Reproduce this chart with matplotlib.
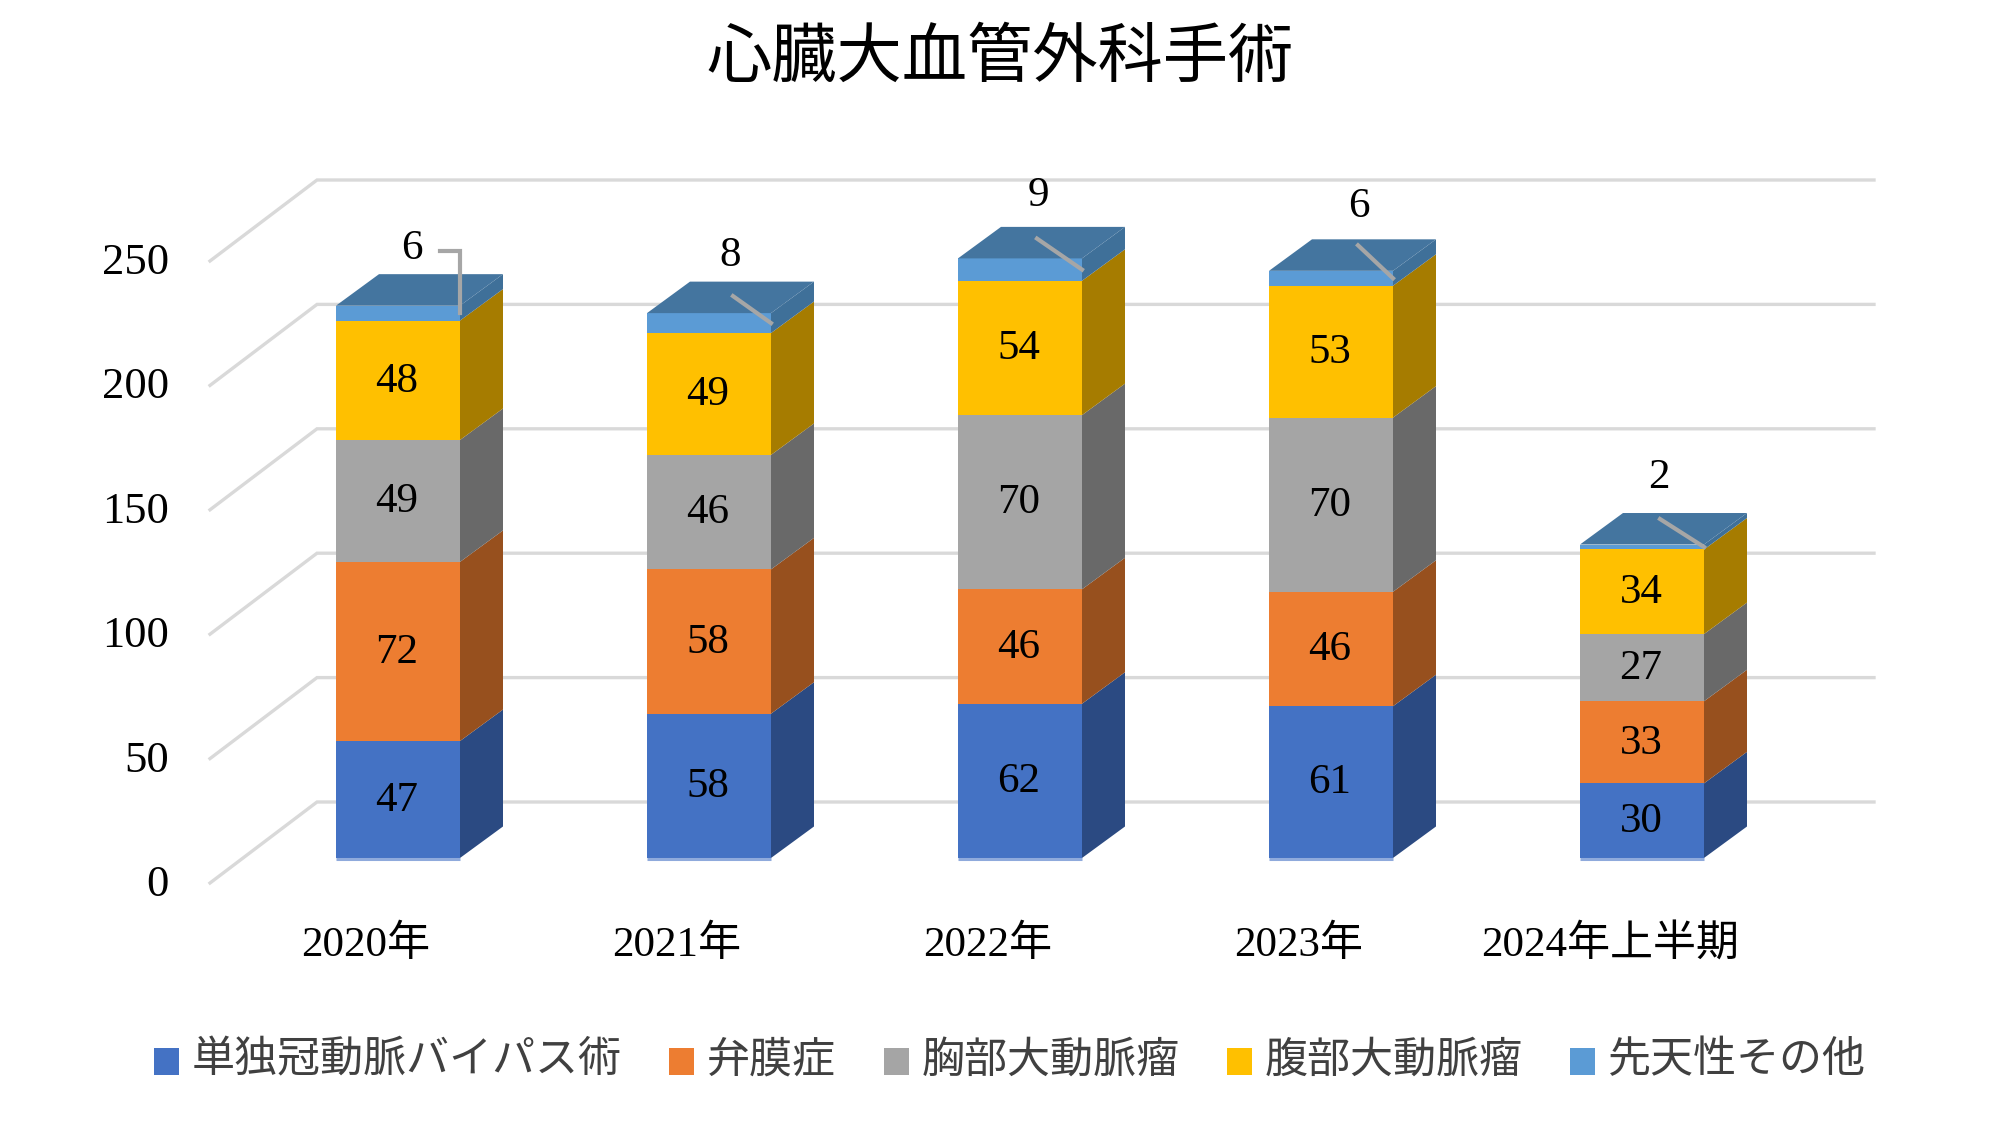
import matplotlib
matplotlib.use('Agg')
import matplotlib.pyplot as plt
from matplotlib.patches import Polygon, Patch

plt.rcParams['font.family'] = ['Liberation Serif', 'Noto Sans CJK JP', 'DejaVu Sans']

# data
years = ['2020年', '2021年', '2022年', '2023年', '2024年上半期']
series_names = ['単独冠動脈バイパス術', '弁膜症', '胸部大動脈瘤', '腹部大動脈瘤', '先天性その他']
cabg = [47, 58, 62, 61, 30]
valve = [72, 58, 46, 46, 33]
thoracic = [49, 46, 70, 70, 27]
abdominal = [48, 49, 54, 53, 34]
congenital = [6, 8, 9, 6, 2]
y_ticks = [0, 50, 100, 150, 200, 250]

series = [cabg, valve, thoracic, abdominal, congenital]
front_cols = ['#4472C4', '#ED7D31', '#A5A5A5', '#FFC000', '#5B9BD5']
side_cols = ['#2B4A82', '#97501E', '#696969', '#A67C00', '#3F7099']
top_col = '#44759F'

# one category = 311 px, one unit = 2.488 px on the 2000x1125 canvas
X_PX = 311.0
Y_PX = 2.488
bar_w = 124 / X_PX
depth_x = 43 / X_PX
depth_y = 31.5 / Y_PX

# label nudges (px) for the top series, and its leader lines
top_lab_dx = [14, 21, 18, 28, 17]
top_lab_dy = [57, 57, 63, 64, 67]
leader_dx = [0, 38, 45, 35, 44]
leader_dy = [0, 27, 31, 33, 28]

fig = plt.figure(figsize=(20, 11.25), dpi=100)
ax = fig.add_axes([0, 0, 1, 1])
ax.set_xlim(-398 / X_PX, (2000 - 398) / X_PX)
ax.set_ylim(-(1125 - 858) / Y_PX, 858 / Y_PX)
ax.axis('off')

# back wall + floor gridlines
grid_col = '#D9D9D9'
wall_l = (317 - 398) / X_PX
wall_r = (1874 - 398) / X_PX
near_l = (210 - 398) / X_PX
wall_up = 56 / Y_PX
near_down = 25 / Y_PX
for v in y_ticks:
    ax.plot([near_l, wall_l, wall_r], [v - near_down, v + wall_up, v + wall_up],
            color=grid_col, lw=2.4, solid_joinstyle='miter', zorder=1)
    ax.text(near_l - 41 / X_PX, v - near_down - 2 / Y_PX, str(v), ha='right', va='center', fontsize=32)

for i, year in enumerate(years):
    left = i - bar_w / 2
    right = i + bar_w / 2
    base = 0
    for vals, fc, sc in zip(series, front_cols, side_cols):
        v = vals[i]
        ax.bar(i, v, width=bar_w, bottom=base, color=fc, linewidth=0, zorder=3)
        ax.add_patch(Polygon([(right, base), (right + depth_x, base + depth_y),
                              (right + depth_x, base + v + depth_y), (right, base + v)],
                             closed=True, fc=sc, ec='none', zorder=3))
        if vals is not congenital:
            ax.text(i - 1 / X_PX, base + v / 2 - 0.4, str(v), ha='center', va='center', fontsize=31, zorder=5)
        base += v
    # top lid
    ax.add_patch(Polygon([(left, base), (left + depth_x, base + depth_y),
                          (right + depth_x, base + depth_y), (right, base)],
                         closed=True, fc=top_col, ec='none', zorder=3))
    # light rim at the foot of the bar
    ax.plot([left, right], [-0.4, -0.4], color='#8FAADC', lw=2.2, zorder=4, solid_capstyle='butt')

    ax.text(i - 32 / X_PX, -87 / Y_PX, year, ha='center', va='center', fontsize=31)

    # top value with leader line, which ends in the middle of the top band
    lab_x = i + top_lab_dx[i] / X_PX
    lab_y = base + top_lab_dy[i] / Y_PX
    end_y = base - congenital[i] / 2
    ax.text(lab_x, lab_y, str(congenital[i]), ha='center', va='center', fontsize=31, zorder=5)
    if i == 0:
        elbow_y = lab_y - 2 / Y_PX
        ax.plot([lab_x + 28 / X_PX, right, right], [elbow_y, elbow_y, end_y],
                color='#A6A6A6', lw=3, zorder=4, solid_joinstyle='miter')
    else:
        ax.plot([right - leader_dx[i] / X_PX, right], [end_y + leader_dy[i] / Y_PX, end_y],
                color='#A6A6A6', lw=3, zorder=4)

fig.suptitle('心臓大血管外科手術', x=0.5, y=1 - 61 / 1125, va='center', fontsize=47)

handles = [Patch(fc=c, ec='none') for c in front_cols]
leg = fig.legend(handles, series_names, ncol=5, loc='center', bbox_to_anchor=(1010 / 2000, 1 - 1061 / 1125),
                 frameon=False, fontsize=31, handlelength=0.58, handleheight=0.58,
                 handletextpad=0.3, columnspacing=1.1, borderpad=0, borderaxespad=0, labelcolor='#404040')
for h in leg.legend_handles:
    h.set_y(h.get_y() - 3)

fig.savefig('out.png', dpi=100)
